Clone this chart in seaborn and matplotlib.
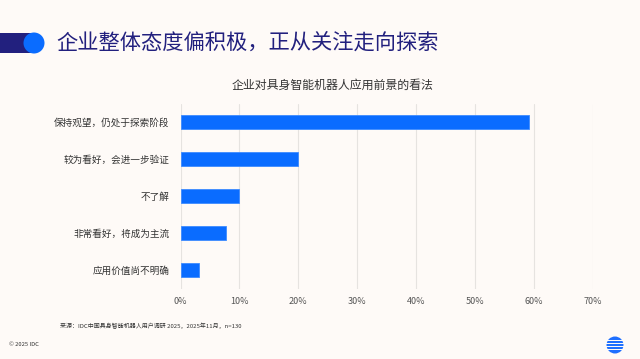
import matplotlib
matplotlib.use("Agg")
import matplotlib.pyplot as plt
import matplotlib.patches as mpatches
from matplotlib.ticker import PercentFormatter
import pandas as pd
import seaborn as sns

# ---------------- DATA ----------------
categories = [
    "保持观望，仍处于探索阶段",
    "较为看好，会进一步验证",
    "不了解",
    "非常看好，将成为主流",
    "应用价值尚不明确",
]
shares = [59.2, 20.0, 10.0, 7.7, 3.1]
x_ticks = [0, 10, 20, 30, 40, 50, 60, 70]

page_title = "企业整体态度偏积极，正从关注走向探索"
chart_title = "企业对具身智能机器人应用前景的看法"
source_note = "来源：IDC中国具身智能机器人用户调研 2025，2025年11月，n=130"
copyright_note = "© 2025 IDC"

BG = "#FEFAF7"
NAVY = "#22207E"
BLUE = "#0A6CFF"

sns.set_theme(style="whitegrid")
plt.rcParams["font.family"] = ["Noto Sans CJK SC", "DejaVu Sans"]

df = pd.DataFrame({"category": categories, "share": shares})

W, H = 640, 359
fig = plt.figure(figsize=(6.4, 3.59), dpi=100, facecolor=BG)


def fx(px):
    return px / W


def fy(py):
    return 1 - py / H


# plot area in pixels: left 180.5, right 593, top 103.5, bottom 288.5
ax = fig.add_axes([fx(180.5), fy(288.5), fx(593 - 180.5), (288.5 - 103.5) / H])
ax.set_facecolor(BG)

sns.barplot(data=df, x="share", y="category", orient="h", color=BLUE,
            width=0.38, saturation=1, edgecolor="#3D8BFF", linewidth=0.6, ax=ax)

ax.set_xlim(0, 70)
ax.set_xticks(x_ticks)
ax.xaxis.set_major_formatter(PercentFormatter(decimals=0))
ax.grid(axis="x", color="#E6E3E0", linewidth=0.8)
ax.grid(axis="y", visible=False)
for s in ax.spines.values():
    s.set_visible(False)
ax.set_xlabel("")
ax.set_ylabel("")
ax.tick_params(axis="x", labelsize=6.5, colors="#555555", pad=6, length=0)
ax.tick_params(axis="y", labelsize=6.9, colors="#333333", pad=8, length=0)
ax.set_axisbelow(True)

# ---------------- HEADER ----------------
fig.add_artist(mpatches.Rectangle((0, fy(53)), fx(34), 20 / H,
                                  transform=fig.transFigure, color=NAVY, lw=0))
fig.add_artist(mpatches.Ellipse((fx(34), fy(43)), 21 / W, 21 / H,
                                transform=fig.transFigure, color=BLUE, lw=0))
fig.text(fx(56), fy(43), page_title, fontsize=15.3, color=NAVY,
         va="center", ha="left")

fig.text(fx(333), fy(85), chart_title, fontsize=8.6, color="#333333",
         va="center", ha="center")

# ---------------- FOOTER ----------------
fig.text(fx(60), fy(326), source_note, fontsize=4.3, color="#333333",
         va="center", ha="left")
fig.text(fx(9), fy(345), copyright_note, fontsize=4.2, color="#333333",
         va="center", ha="left")

# logo: striped blue circle
cx, cy, r = 615, 345, 8.5
fig.add_artist(mpatches.Ellipse((fx(cx), fy(cy)), 2 * r / W, 2 * r / H,
                                transform=fig.transFigure, color="#1E6FFF", lw=0))
for off in [-4.5, -1.5, 1.5, 4.5]:
    fig.add_artist(mpatches.Rectangle((fx(cx - r - 1), fy(cy + off + 0.8)),
                                      (2 * r + 2) / W, 1.6 / H,
                                      transform=fig.transFigure, color=BG, lw=0))

fig.savefig("out.png", dpi=100, facecolor=BG)
